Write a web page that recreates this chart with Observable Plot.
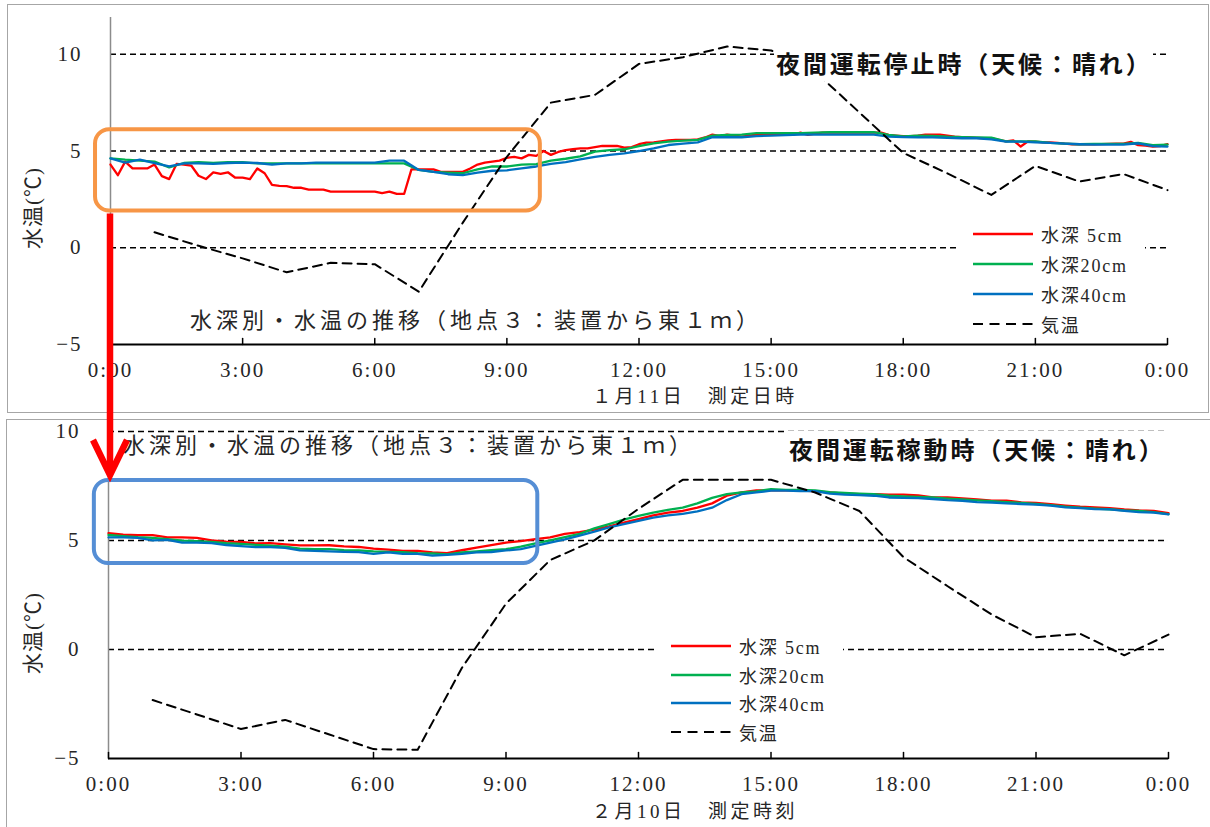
<!DOCTYPE html>
<html>
<head>
<meta charset="utf-8">
<script src="https://cdn.jsdelivr.net/npm/d3@7"></script>
<script src="https://cdn.jsdelivr.net/npm/@observablehq/plot@0.6"></script>
<style>
  html, body { margin: 0; padding: 0; background: #fff; }
  body { width: 1210px; height: 827px; position: relative; overflow: hidden;
         font-family: "Liberation Serif", "Noto Sans CJK JP", serif; color: #262626; }
  .layer { position: absolute; left: 0; width: 1210px; }
  .frame { position: absolute; border: 1.5px solid #a6a6a6; box-sizing: border-box; pointer-events: none; }
  .title { position: absolute; font-family: "Noto Sans CJK JP", sans-serif; font-weight: 700;
           font-size: 24px; letter-spacing: 2.9px; line-height: 36px; background: #fff;
           white-space: nowrap; color: #111; padding-left: 2px; }
  .subtitle { position: absolute; font-family: "Noto Sans CJK JP", sans-serif; font-weight: 400;
              font-size: 22px; letter-spacing: 4px; line-height: 24px; white-space: nowrap; color: #262626; }
  .xtitle { position: absolute; font-size: 19px; letter-spacing: 3.5px; line-height: 20px;
            white-space: nowrap; transform: translateX(-50%); }
  .ytitle { position: absolute; font-size: 21px; letter-spacing: 1px; line-height: 22px; white-space: nowrap;
            transform: translate(-50%, -50%) rotate(-90deg); }
  .legend { position: absolute; background: #fff; }
  .legend .item { position: absolute; left: 0; height: 24px; display: flex; align-items: center;
                  font-size: 18px; letter-spacing: 1.8px; white-space: nowrap; }
  .legend svg { display: block; margin-right: 8px; }
</style>
</head>
<body>
<script>
// Hourly ticks for the time axis and degree ticks for the temperature axis
const hourTicks = [0, 3, 6, 9, 12, 15, 18, 21, 24];
const tempTicks = [-5, 0, 5, 10];
const gridLevels = [0, 5, 10];

// Series names (legend labels)
const seriesNames = ["水深 5cm", "水深20cm", "水深40cm", "気温"];

// ---- 1月11日 (night operation stopped) ----
// Water temperature at 5 cm, every 10 minutes from 0:00 to 24:00
const jan11Depth5 = [
  4.3, 3.75, 4.45, 4.1, 4.1, 4.1, 4.3, 3.7, 3.55, 4.33, 4.3, 4.25,
  3.72, 3.55, 3.9, 3.82, 3.9, 3.62, 3.62, 3.55, 4.1, 3.85, 3.25, 3.2,
  3.18, 3.1, 3.1, 3.0, 3.0, 3.0, 2.9, 2.9, 2.9, 2.9, 2.9, 2.9,
  2.9, 2.82, 2.9, 2.78, 2.78, 4.05, 4.05, 4.05, 4.05, 3.92, 3.92, 3.92,
  3.92, 4.1, 4.3, 4.4, 4.45, 4.5, 4.65, 4.7, 4.62, 4.8, 4.75, 5.0,
  4.8, 4.95, 5.05, 5.1, 5.14, 5.14, 5.2, 5.26, 5.26, 5.26, 5.17, 5.2,
  5.35, 5.43, 5.45, 5.5, 5.55, 5.57, 5.57, 5.57, 5.6, 5.7, 5.85, 5.77,
  5.85, 5.8, 5.74, 5.8, 5.85, 5.85, 5.85, 5.85, 5.85, 5.85, 5.95, 5.83,
  5.9, 5.95, 5.95, 5.95, 5.95, 5.95, 5.95, 5.95, 5.95, 5.95, 5.83, 5.8,
  5.77, 5.77, 5.8, 5.85, 5.85, 5.85, 5.8, 5.74, 5.72, 5.7, 5.68, 5.66,
  5.66, 5.58, 5.5, 5.55, 5.23, 5.5, 5.48, 5.45, 5.45, 5.42, 5.38, 5.35,
  5.35, 5.35, 5.35, 5.36, 5.37, 5.38, 5.38, 5.47, 5.3, 5.28, 5.23, 5.25,
  5.35
];
// Water temperature at 20 cm, every 20 minutes
const jan11Depth20 = [
  4.62, 4.55, 4.5, 4.45, 4.15, 4.38, 4.42, 4.38, 4.42,
  4.42, 4.36, 4.36, 4.36, 4.36, 4.36, 4.36, 4.36, 4.36,
  4.36, 4.36, 4.36, 4.02, 3.92, 3.88, 3.85, 4.05, 4.2,
  4.2, 4.3, 4.32, 4.5, 4.6, 4.72, 4.97, 5.05, 5.09,
  5.25, 5.4, 5.48, 5.54, 5.58, 5.8, 5.83, 5.85, 5.92,
  5.92, 5.92, 5.92, 5.95, 5.97, 5.97, 5.97, 5.97, 5.83,
  5.76, 5.8, 5.78, 5.74, 5.72, 5.7, 5.69, 5.5, 5.5,
  5.5, 5.42, 5.38, 5.35, 5.37, 5.37, 5.37, 5.42, 5.3,
  5.33
];
// Water temperature at 40 cm, every 20 minutes
const jan11Depth40 = [
  4.62, 4.4, 4.55, 4.38, 4.2, 4.36, 4.36, 4.33, 4.38,
  4.4, 4.38, 4.3, 4.36, 4.36, 4.4, 4.4, 4.4, 4.4,
  4.4, 4.5, 4.5, 4.02, 3.92, 3.8, 3.75, 3.88, 3.98,
  4.0, 4.1, 4.2, 4.33, 4.42, 4.57, 4.7, 4.8, 4.88,
  5.0, 5.14, 5.31, 5.38, 5.45, 5.71, 5.71, 5.71, 5.77,
  5.8, 5.82, 5.85, 5.85, 5.85, 5.85, 5.85, 5.85, 5.74,
  5.72, 5.7, 5.7, 5.68, 5.66, 5.66, 5.6, 5.48, 5.48,
  5.45, 5.42, 5.38, 5.35, 5.33, 5.33, 5.33, 5.4, 5.25,
  5.23
];
// Air temperature, hourly from 1:00 to 24:00
const jan11Air = [
  0.8, 0.1, -0.55, -1.27, -0.78, -0.85, -2.27, 1.3, 4.7, 7.5, 7.9, 9.5,
  9.85, 10.4, 10.2, 9.1, 7.0, 4.9, 3.85, 2.73, 4.23, 3.42, 3.81, 2.98
];

// ---- 2月10日 (night operation running) ----
const feb10Depth5 = [
  5.33, 5.26, 5.24, 5.24, 5.14, 5.14, 5.12, 5.0, 4.95,
  4.93, 4.86, 4.88, 4.82, 4.77, 4.77, 4.78, 4.73, 4.7,
  4.62, 4.58, 4.52, 4.52, 4.45, 4.42, 4.55, 4.67, 4.79,
  4.9, 4.97, 5.06, 5.14, 5.3, 5.38, 5.5, 5.65, 5.82,
  5.98, 6.15, 6.28, 6.35, 6.5, 6.7, 7.05, 7.2, 7.3,
  7.3, 7.3, 7.3, 7.25, 7.2, 7.15, 7.12, 7.12, 7.1,
  7.1, 7.07, 6.97, 6.97, 6.93, 6.88, 6.82, 6.82, 6.75,
  6.72, 6.66, 6.6, 6.55, 6.52, 6.48, 6.42, 6.38, 6.36,
  6.25
];
const feb10Depth20 = [
  5.25, 5.2, 5.15, 5.12, 5.06, 4.99, 4.97, 4.93, 4.87,
  4.84, 4.8, 4.76, 4.72, 4.62, 4.6, 4.6, 4.56, 4.54,
  4.5, 4.48, 4.46, 4.42, 4.4, 4.36, 4.45, 4.5, 4.55,
  4.6, 4.72, 4.86, 5.0, 5.15, 5.3, 5.55, 5.75, 5.95,
  6.13, 6.28, 6.4, 6.5, 6.7, 6.95, 7.12, 7.2, 7.25,
  7.35, 7.32, 7.32, 7.3, 7.22, 7.18, 7.15, 7.12, 7.05,
  7.02, 7.0, 6.97, 6.92, 6.88, 6.84, 6.8, 6.76, 6.72,
  6.67, 6.62, 6.55, 6.5, 6.46, 6.43, 6.38, 6.36, 6.3,
  6.21
];
const feb10Depth40 = [
  5.14, 5.14, 5.12, 5.0, 5.03, 4.9, 4.9, 4.88, 4.79,
  4.74, 4.69, 4.69, 4.66, 4.54, 4.52, 4.5, 4.48, 4.46,
  4.38, 4.45, 4.38, 4.38, 4.3, 4.34, 4.38, 4.45, 4.47,
  4.54, 4.6, 4.75, 4.9, 5.05, 5.22, 5.4, 5.6, 5.75,
  5.9, 6.05, 6.15, 6.22, 6.33, 6.5, 6.85, 7.12, 7.2,
  7.28, 7.28, 7.26, 7.26, 7.15, 7.1, 7.08, 7.05, 6.97,
  6.95, 6.94, 6.9, 6.85, 6.82, 6.76, 6.74, 6.7, 6.67,
  6.64, 6.6, 6.52, 6.48, 6.44, 6.42, 6.36, 6.3, 6.28,
  6.2
];
const feb10Air = [
  -2.32, -2.98, -3.65, -3.23, -3.9, -4.57, -4.6, -0.85, 2.1, 4.1, 5.0, 6.45,
  7.78, 7.78, 7.78, 7.2, 6.35, 4.23, 2.9, 1.6, 0.56, 0.72, -0.27, 0.68
];

// Line styling
const lineColors = ["#ff0000", "#00b050", "#0070c0"];
const airDash = "9,6";

// Turn a fixed-interval series into {hour, temp} rows
const timed = (values, stepHours) => values.map((v, i) => ({hour: i * stepHours, temp: v}));
const hourly = (values) => values.map((v, i) => ({hour: i + 1, temp: v}));

// Short upward tick drawn from the time axis
const upTick = {draw(context, l) { context.moveTo(0, 0); context.lineTo(0, -l); }};

function panel({water, air, yDomain, width, height, margins, box}) {
  const [mt, mr, mb, ml] = margins;
  return Plot.plot({
    width, height,
    marginTop: mt, marginRight: mr, marginBottom: mb, marginLeft: ml,
    style: {
      fontFamily: "'Liberation Serif', 'Noto Sans CJK JP', serif",
      fontSize: "21px", letterSpacing: "2px", color: "#262626",
      background: "none", overflow: "visible"
    },
    x: {domain: [0, 24], label: null},
    y: {domain: yDomain, label: null},
    marks: [
      Plot.ruleY(gridLevels, {stroke: "#000", strokeWidth: 1.5, strokeDasharray: "6,4"}),
      Plot.ruleX([0], {stroke: "#8c8c8c", strokeWidth: 1.5}),
      Plot.ruleY([yDomain[0]], {stroke: "#000", strokeWidth: 2}),
      Plot.vector(hourTicks, {x: (d) => d, y: yDomain[0], length: 6, rotate: 0, anchor: "start",
                              shape: upTick, stroke: "#000", strokeWidth: 1.5}),
      Plot.axisX({ticks: hourTicks, tickSize: 0, tickPadding: 18,
                  tickFormat: (h) => `${h % 24}:00`, label: null}),
      Plot.axisY({ticks: tempTicks, tickSize: 0, tickPadding: 28, label: null}),
      ...water.map((w, k) => Plot.line(timed(w.values, w.step),
        {x: "hour", y: "temp", stroke: lineColors[k], strokeWidth: 2.3})),
      Plot.line(hourly(air), {x: "hour", y: "temp", stroke: "#000", strokeWidth: 2, strokeDasharray: airDash}),
      Plot.rect([box], {x1: "x1", x2: "x2", y1: "y1", y2: "y2", fill: "none",
                        stroke: box.color, strokeWidth: 4, rx: 14})
    ]
  });
}

// Highlighted night-time windows
const jan11Box = {x1: -0.34, x2: 9.76, y1: 1.9, y2: 6.1, color: "#f79646"};
const feb10Box = {x1: -0.32, x2: 9.72, y1: 3.94, y2: 7.75, color: "#558ed5"};

const topPlot = panel({
  water: [{values: jan11Depth5, step: 1 / 6}, {values: jan11Depth20, step: 1 / 3}, {values: jan11Depth40, step: 1 / 3}],
  air: jan11Air, yDomain: [-5, 11.9], width: 1210, height: 413, margins: [17, 43, 69, 110], box: jan11Box
});
const bottomPlot = panel({
  water: [{values: feb10Depth5, step: 1 / 3}, {values: feb10Depth20, step: 1 / 3}, {values: feb10Depth40, step: 1 / 3}],
  air: feb10Air, yDomain: [-5, 10.5], width: 1210, height: 408, margins: [1, 42, 69, 108], box: feb10Box
});

const BOTTOM_TOP = 419;

function layer(top, node) {
  const d = document.createElement("div");
  d.className = "layer";
  d.style.top = top + "px";
  d.appendChild(node);
  document.body.appendChild(d);
}
layer(0, topPlot);
layer(BOTTOM_TOP, bottomPlot);

function el(cls, text, css) {
  const d = document.createElement("div");
  d.className = cls;
  if (text != null) d.textContent = text;
  Object.assign(d.style, css);
  document.body.appendChild(d);
  return d;
}

// Panel frames
el("frame", null, {left: "7px", top: "4px", width: "1202px", height: "409px"});
el("frame", null, {left: "6px", top: "419px", width: "1220px", height: "420px"});

// Titles
el("title", "夜間運転停止時（天候：晴れ）", {left: "774px", top: "45px"});
el("title", "夜間運転稼動時（天候：晴れ）", {left: "787px", top: "431px"});
el("subtitle", "水深別・水温の推移（地点３：装置から東１ｍ）", {left: "190px", top: "306px"});
el("subtitle", "水深別・水温の推移（地点３：装置から東１ｍ）", {left: "123px", top: "431px"});

// Axis titles
el("xtitle", "１月11日　測定日時", {left: "695px", top: "387px"});
el("xtitle", "２月10日　測定時刻", {left: "695px", top: "802px"});
el("ytitle", "水温(℃)", {left: "33px", top: "208px"});
el("ytitle", "水温(℃)", {left: "33px", top: "633px"});

// Legends
function legend(left, top, rowTops) {
  const box = el("legend", null, {left: left + "px", top: top + "px", width: "188px", height: "118px"});
  seriesNames.forEach((name, k) => {
    const item = document.createElement("div");
    item.className = "item";
    item.style.top = rowTops[k] + "px";
    item.style.left = "16px";
    const s = d3.create("svg").attr("width", 60).attr("height", 6);
    s.append("line").attr("x1", 0).attr("x2", 60).attr("y1", 3).attr("y2", 3)
      .attr("stroke", k < 3 ? lineColors[k] : "#000")
      .attr("stroke-width", k < 3 ? 2.5 : 2)
      .attr("stroke-dasharray", k < 3 ? null : "10,6.5");
    item.appendChild(s.node());
    const t = document.createElement("span");
    t.textContent = name;
    item.appendChild(t);
    box.appendChild(item);
  });
}
legend(957, 219, [3, 33, 63, 93]);
legend(655, 631, [3, 32, 60, 89]);

// Arrow linking the two highlighted windows
const ax = topPlot.scale("x").apply(0);
const yStart = topPlot.scale("y").apply(jan11Box.y1) + 3;
const yTip = BOTTOM_TOP + bottomPlot.scale("y").apply(feb10Box.y2) - 2;
const arrow = d3.create("svg")
  .attr("width", 1210).attr("height", 827)
  .style("position", "absolute").style("left", 0).style("top", 0);
arrow.append("line").attr("x1", ax).attr("x2", ax).attr("y1", yStart).attr("y2", yTip - 4)
  .attr("stroke", "#ff0000").attr("stroke-width", 6.5);
arrow.append("path")
  .attr("d", `M${ax - 17},${yTip - 38}L${ax},${yTip - 3}L${ax + 17},${yTip - 38}`)
  .attr("fill", "none").attr("stroke", "#ff0000").attr("stroke-width", 6.5)
  .attr("stroke-linejoin", "miter");
document.body.appendChild(arrow.node());
</script>
</body>
</html>
